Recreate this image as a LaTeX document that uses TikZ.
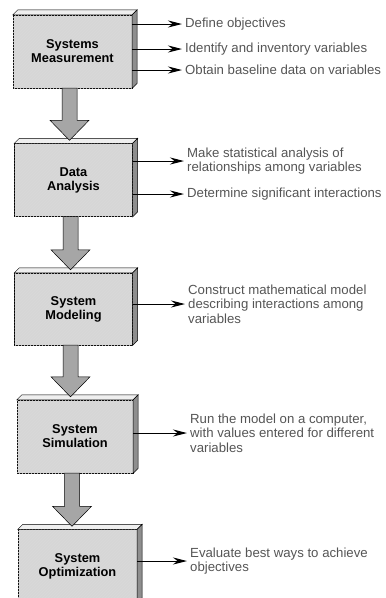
\documentclass[tikz,border=0pt]{standalone}
\usepackage{fontspec}
\setmainfont{Liberation Sans}
\usetikzlibrary{arrows.meta,calc,patterns}

\definecolor{facegray}{HTML}{D6D6D6}
\definecolor{sidegray}{HTML}{8E8E8E}
\definecolor{topgray}{HTML}{EFEFEF}
\definecolor{shaftgray}{HTML}{A6A6A6}
\definecolor{notegray}{HTML}{555555}

\tikzset{
    stage/.style={draw, fill=facegray, postaction={pattern=north east lines, pattern color=gray!30},
        minimum width=118pt, minimum height=73pt, align=center, inner sep=0pt,
        font=\fontsize{12.8}{14}\selectfont\bfseries},
    note/.style={anchor=west, align=left, inner sep=0pt, text=notegray,
        font=\fontsize{13.2}{14.5}\selectfont},
    topface/.style={fill=topgray, draw, line width=0.5pt},
    sideface/.style={fill=sidegray, draw, line width=0.5pt},
    fatarrow/.style={fill=shaftgray, draw, line width=0.5pt},
    pointer/.style={-{Stealth[length=14pt,width=7pt]}, line width=1pt, shorten >=3pt}
}

\newcommand{\slab}[1]{%
    \filldraw[topface] (#1.north west) -- ++(5,-5) -- ($(#1.north east)+(5,-5)$) -- (#1.north east) -- cycle;
    \filldraw[sideface] (#1.north east) -- ++(5,-5) -- ($(#1.south east)+(5,-5)$) -- (#1.south east) -- cycle;
}
\newcommand{\fatarrow}[2]{%
    \filldraw[fatarrow] let \p1=(#1.south), \p2=(#2.north) in
        (\x1-10.5pt,\y1) -- (\x1+4.5pt,\y1) -- (\x1+4.5pt,\y2+23pt) -- (\x1+16.5pt,\y2+23pt)
        -- (\x1-3pt,\y2+3pt) -- (\x1-22.5pt,\y2+23pt) -- (\x1-10.5pt,\y2+23pt) -- cycle;
}

\begin{document}
\begin{tikzpicture}[x=1pt,y=-1pt]
    \useasboundingbox (0,0) rectangle (386,598);
    \clip (0,0) rectangle (386,598);

    \node[stage, minimum width=119pt] (m1) at (72.5,51.5) {Systems\\Measurement};
    \node[stage] (m2) at (73.5,180) {Data\\Analysis};
    \node[stage, minimum height=72pt] (m3) at (73.5,309) {System\\Modeling};
    \node[stage, minimum width=116pt] (m4) at (75,436.5) {System\\Simulation};
    \node[stage, minimum width=119pt] (m5) at (77.5,566) {System\\Optimization};

    \foreach \m in {m1,m2,m3,m4,m5} {
        \slab{\m}
    }

    \fatarrow{m1}{m2}
    \fatarrow{m2}{m3}
    \fatarrow{m3}{m4}
    \fatarrow{m4}{m5}

    \node[note] (n11) at (185,24) {Define objectives};
    \node[note] (n12) at (185,49) {Identify and inventory variables};
    \node[note] (n13) at (185,70) {Obtain baseline data on variables};
    \node[note] (n21) at (187,161) {Make statistical analysis of\\relationships among variables};
    \node[note] (n22) at (187,194) {Determine significant interactions};
    \node[note] (n3) at (188,304) {Construct mathematical model\\describing interactions among\\variables};
    \node[note] (n4) at (190,433) {Run the model on a computer,\\with values entered for different\\variables};
    \node[note] (n5) at (190,561) {Evaluate best ways to achieve\\objectives};

    \draw[pointer] (m1.east |- n11.west) -- (n11.west);
    \draw[pointer] (m1.east |- n12.west) -- (n12.west);
    \draw[pointer] (m1.east |- n13.west) -- (n13.west);
    \draw[pointer] (m2.east |- n21.west) -- (n21.west);
    \draw[pointer] (m2.east |- n22.west) -- (n22.west);
    \draw[pointer] (m3.east |- n3.west) -- (n3.west);
    \draw[pointer] (m4.east |- n4.west) -- (n4.west);
    \draw[pointer] (m5.east |- n5.west) -- (n5.west);
\end{tikzpicture}
\end{document}
